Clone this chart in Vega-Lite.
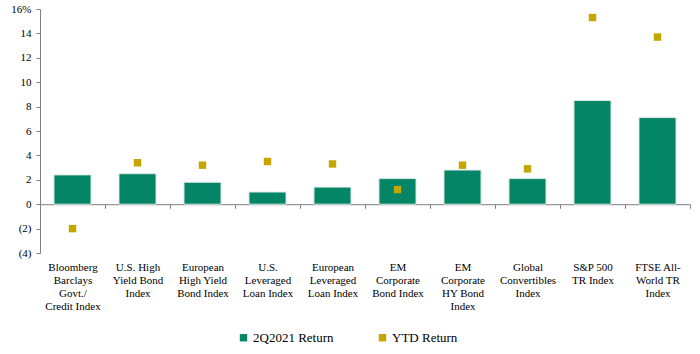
{
  "$schema": "https://vega.github.io/schema/vega-lite/v6.json",
  "width": 650,
  "height": 244,
  "autosize": {"type": "none"},
  "padding": {"left": 40, "top": 9, "right": 10, "bottom": 101},
  "background": "white",
  "config": {
    "view": {"stroke": null},
    "font": "Liberation Serif"
  },
  "data": {
    "values": [
      {"cat": "Bloomberg|Barclays|Govt./|Credit Index", "ret": 2.4, "ytd": -2.0},
      {"cat": "U.S. High|Yield Bond|Index", "ret": 2.5, "ytd": 3.4},
      {"cat": "European|High Yield|Bond Index", "ret": 1.8, "ytd": 3.2},
      {"cat": "U.S.|Leveraged|Loan Index", "ret": 1.0, "ytd": 3.5},
      {"cat": "European|Leveraged|Loan Index", "ret": 1.4, "ytd": 3.3},
      {"cat": "EM|Corporate|Bond Index", "ret": 2.1, "ytd": 1.2},
      {"cat": "EM|Corporate|HY Bond|Index", "ret": 2.8, "ytd": 3.2},
      {"cat": "Global|Convertibles|Index", "ret": 2.1, "ytd": 2.9},
      {"cat": "S&P 500|TR Index", "ret": 8.5, "ytd": 15.3},
      {"cat": "FTSE All-|World TR|Index", "ret": 7.1, "ytd": 13.7}
    ]
  },
  "encoding": {
    "x": {
      "field": "cat",
      "type": "nominal",
      "sort": null,
      "title": null,
      "scale": {"paddingInner": 0, "paddingOuter": 0},
      "axis": {
        "orient": "bottom",
        "offset": -48.8,
        "tickBand": "extent",
        "tickSize": 4,
        "tickColor": "#808080",
        "tickOpacity": {"condition": {"test": "datum.extra", "value": 0}, "value": 1},
        "domainColor": "#808080",
        "labelAngle": 0,
        "labelPadding": 53,
        "labelBaseline": "top",
        "labelFont": "Liberation Serif",
        "labelFontSize": 11,
        "labelColor": "#000000",
        "labelLineHeight": 13,
        "labelOverlap": false,
        "labelExpr": "split(datum.label, '|')"
      }
    }
  },
  "layer": [
    {
      "mark": {"type": "bar", "width": {"band": 0.57}, "stroke": "#dde8e4", "strokeWidth": 1},
      "encoding": {
        "y": {
          "field": "ret",
          "type": "quantitative",
          "title": null,
          "scale": {"domain": [-4, 16], "nice": false},
          "axis": {
            "values": [-4, -2, 0, 2, 4, 6, 8, 10, 12, 14, 16],
            "tickCount": 11,
            "grid": false,
            "tickSize": 4,
            "tickColor": "#808080",
            "domainColor": "#808080",
            "labelPadding": 5,
            "labelOverlap": false,
            "labelFont": "Liberation Serif",
            "labelFontSize": 11,
            "labelColor": "#000000",
            "labelExpr": "datum.value == 16 ? '16%' : (datum.value < 0 ? '(' + abs(datum.value) + ')' : '' + datum.value)"
          }
        },
        "color": {
          "datum": "2Q2021 Return",
          "type": "nominal",
          "scale": {"domain": ["2Q2021 Return", "YTD Return"], "range": ["#038566", "#C5A500"]},
          "legend": {
            "orient": "none",
            "legendX": 197,
            "legendY": 322,
            "direction": "horizontal",
            "title": null,
            "symbolType": "square",
            "symbolSize": 55,
            "symbolStrokeWidth": 0,
            "labelFont": "Liberation Serif",
            "labelFontSize": 13,
            "labelColor": "#000000",
            "labelOffset": 3,
            "columnPadding": 42
          }
        }
      }
    },
    {
      "mark": {"type": "point", "shape": "square", "filled": true, "size": 55, "opacity": 1},
      "encoding": {
        "y": {
          "field": "ytd",
          "type": "quantitative",
          "title": null,
          "axis": {
            "values": [-4, -2, 0, 2, 4, 6, 8, 10, 12, 14, 16],
            "tickCount": 11,
            "grid": false,
            "tickSize": 4,
            "tickColor": "#808080",
            "domainColor": "#808080",
            "labelPadding": 5,
            "labelOverlap": false,
            "labelFont": "Liberation Serif",
            "labelFontSize": 11,
            "labelColor": "#000000",
            "labelExpr": "datum.value == 16 ? '16%' : (datum.value < 0 ? '(' + abs(datum.value) + ')' : '' + datum.value)"
          }
        },
        "color": {"datum": "YTD Return", "type": "nominal"}
      }
    }
  ]
}
